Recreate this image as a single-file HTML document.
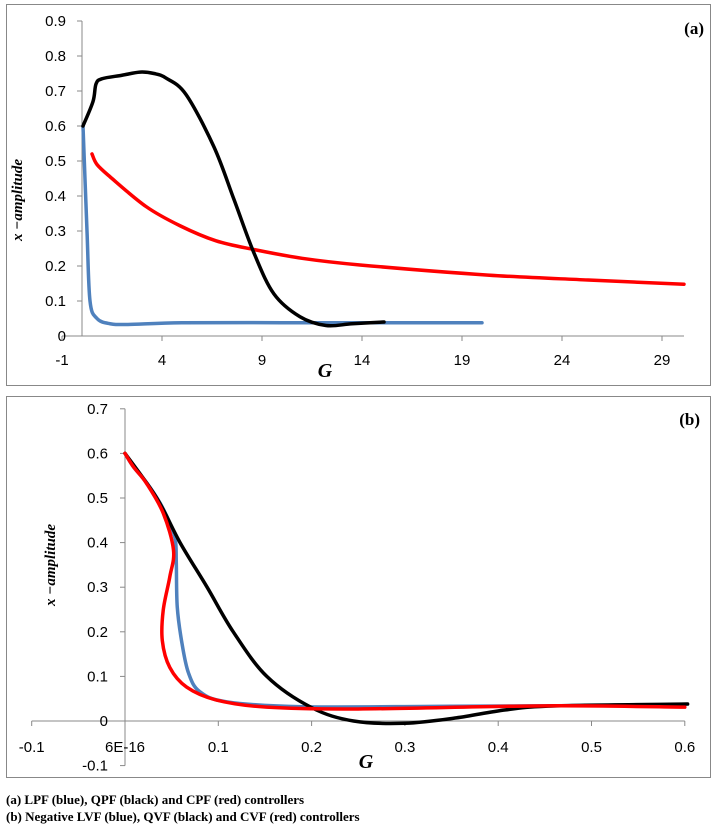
<!DOCTYPE html>
<html><head><meta charset="utf-8"><style>
body{margin:0;background:#fff;width:716px;height:828px;overflow:hidden;font-family:"Liberation Sans",sans-serif}
svg{position:absolute;left:0;top:0}
.cap{position:absolute;left:6px;font:bold 13px "Liberation Serif",serif;color:#000}
</style></head><body>
<svg id="s" width="716" height="828"></svg>
<div class="cap" style="top:792px">(a) LPF (blue), QPF (black) and CPF (red) controllers</div>
<div class="cap" style="top:809px">(b) Negative LVF (blue), QVF (black) and CVF (red) controllers</div>
<script>
// Chart (a) data
const aXTicks=[-1,4,9,14,19,24,29];
const aYTicks=[0,0.1,0.2,0.3,0.4,0.5,0.6,0.7,0.8,0.9];
const aBlueG=[0.05,0.25,0.4,0.75,1.4,2.3,5,10,15,20];
const aBlueV=[0.6,0.3,0.1,0.05,0.035,0.033,0.038,0.038,0.038,0.038];
const aBlackG=[0.05,0.55,0.7,1,2,2.9,3.6,4.2,5.2,6.6,7.6,8.6,9.6,10.9,12.2,13.5,15.1];
const aBlackV=[0.6,0.67,0.72,0.735,0.745,0.754,0.75,0.737,0.69,0.54,0.39,0.237,0.12,0.055,0.03,0.035,0.04];
const aRedG=[0.5,0.75,1.4,3.2,4.9,6.7,8.6,11,13.9,20.3,25.3,30.1];
const aRedV=[0.52,0.49,0.455,0.37,0.315,0.272,0.247,0.222,0.203,0.174,0.16,0.148];
// Chart (b) data
const bXTicks=[-0.1,0,0.1,0.2,0.3,0.4,0.5,0.6];
const bXLabels=["-0.1","6E-16","0.1","0.2","0.3","0.4","0.5","0.6"];
const bYTicks=[-0.1,0,0.1,0.2,0.3,0.4,0.5,0.6,0.7];
const bBlueG=[0,0.009,0.023,0.0375,0.048,0.054,0.055,0.056,0.061,0.068,0.080,0.109,0.19,0.35,0.6];
const bBlueV=[0.6,0.57,0.535,0.489,0.444,0.406,0.354,0.256,0.175,0.108,0.066,0.043,0.032,0.033,0.036];
const bBlackG=[0,0.034,0.059,0.088,0.116,0.152,0.2,0.245,0.30,0.355,0.408,0.462,0.603];
const bBlackV=[0.6,0.5,0.4,0.3,0.2,0.1,0.03,0.0,-0.005,0.007,0.025,0.034,0.038];
const bRedG=[0,0.009,0.023,0.041,0.052,0.048,0.041,0.040,0.048,0.066,0.098,0.152,0.25,0.45,0.6];
const bRedV=[0.6,0.57,0.533,0.466,0.383,0.323,0.249,0.18,0.12,0.076,0.047,0.031,0.027,0.034,0.031];

const NS="http://www.w3.org/2000/svg",S=document.getElementById('s');
function el(t,a,p){const e=document.createElementNS(NS,t);for(const k in a)e.setAttribute(k,a[k]);(p||S).appendChild(e);return e;}
function path(xs,ys,fx,fy){const P=xs.map((x,i)=>[fx(x),fy(ys[i])]);let d=`M${P[0][0]},${P[0][1]}`;
 for(let i=0;i<P.length-1;i++){const p0=P[i-1]||P[i],p1=P[i],p2=P[i+1],p3=P[i+2]||p2;
 d+=` C${p1[0]+(p2[0]-p0[0])/6},${p1[1]+(p2[1]-p0[1])/6} ${p2[0]-(p3[0]-p1[0])/6},${p2[1]-(p3[1]-p1[1])/6} ${p2[0]},${p2[1]}`;}return d;}
function text(x,y,s,a,name){const t=el('text',Object.assign({x,y,'font-size':15,fill:'#000','font-family':'"Liberation Sans",sans-serif'},a));t.textContent=s;return t;}

// Panel a
let r=el('rect',{x:6.5,y:4.5,width:704,height:381,fill:'#fff',stroke:'#888'});

const ax=g=>62+20*(g+1), ay=v=>336-350*v;
el('line',{x1:ax(0),y1:ay(0.9),x2:ax(0),y2:ay(0),stroke:'#888'});
el('line',{x1:ax(-1),y1:ay(0),x2:684,y2:ay(0),stroke:'#888'});
aYTicks.forEach(v=>{el('line',{x1:ax(0)-5,y1:ay(v),x2:ax(0),y2:ay(v),stroke:'#888'});text(66,ay(v)+5,v===0?'0':v.toFixed(1),{'text-anchor':'end'},'y-tick-a');});
aXTicks.forEach(g=>{el('line',{x1:ax(g),y1:ay(0),x2:ax(g),y2:ay(0)+5,stroke:'#888'});text(ax(g),365,String(g),{'text-anchor':'middle'},'x-tick-a');});
[[aBlueG,aBlueV,'#4f81bd','series-lpf-blue'],[aRedG,aRedV,'#f00','series-cpf-red'],[aBlackG,aBlackV,'#000','series-qpf-black']].forEach(([x,y,c,n])=>{
 const p=el('path',{d:path(x,y,ax,ay),fill:'none',stroke:c,'stroke-width':3.5,'stroke-linecap':'round'});});
text(22,200,'x −amplitude',{transform:'rotate(-90 22 200)','text-anchor':'middle','font-family':'"Liberation Serif",serif','font-style':'italic','font-weight':'bold','font-size':15},'y-axis-title-a');
text(325,377,'G',{'text-anchor':'middle','font-family':'"Liberation Serif",serif','font-style':'italic','font-weight':'bold','font-size':20},'x-axis-title-a');
text(704,34,'(a)',{'text-anchor':'end','font-family':'"Liberation Serif",serif','font-weight':'bold','font-size':17},'panel-label-a');

// Panel b
r=el('rect',{x:6.5,y:396.5,width:704,height:381,fill:'#fff',stroke:'#888'});

const bx=g=>125+933*g, by=v=>721-446*v;
el('line',{x1:bx(0),y1:by(0.7),x2:bx(0),y2:by(-0.1),stroke:'#888'});
el('line',{x1:bx(-0.1),y1:by(0),x2:bx(0.6),y2:by(0),stroke:'#888'});
bYTicks.forEach(v=>{el('line',{x1:bx(0)-5,y1:by(v),x2:bx(0),y2:by(v),stroke:'#888'});text(108,by(v)+5,v===0?'0':v.toFixed(1),{'text-anchor':'end'},'y-tick-b');});
bXTicks.forEach((g,i)=>{el('line',{x1:bx(g),y1:by(0),x2:bx(g),y2:by(0)+5,stroke:'#888'});text(bx(g),752,bXLabels[i],{'text-anchor':'middle'},'x-tick-b');});
[[bBlueG,bBlueV,'#4f81bd','series-lvf-blue'],[bBlackG,bBlackV,'#000','series-qvf-black'],[bRedG,bRedV,'#f00','series-cvf-red']].forEach(([x,y,c,n])=>{
 const p=el('path',{d:path(x,y,bx,by),fill:'none',stroke:c,'stroke-width':3.5,'stroke-linecap':'round'});});
text(55,565,'x −amplitude',{transform:'rotate(-90 55 565)','text-anchor':'middle','font-family':'"Liberation Serif",serif','font-style':'italic','font-weight':'bold','font-size':15},'y-axis-title-b');
text(366,768,'G',{'text-anchor':'middle','font-family':'"Liberation Serif",serif','font-style':'italic','font-weight':'bold','font-size':20},'x-axis-title-b');
text(700,425,'(b)',{'text-anchor':'end','font-family':'"Liberation Serif",serif','font-weight':'bold','font-size':17},'panel-label-b');
</script>
</body></html>
